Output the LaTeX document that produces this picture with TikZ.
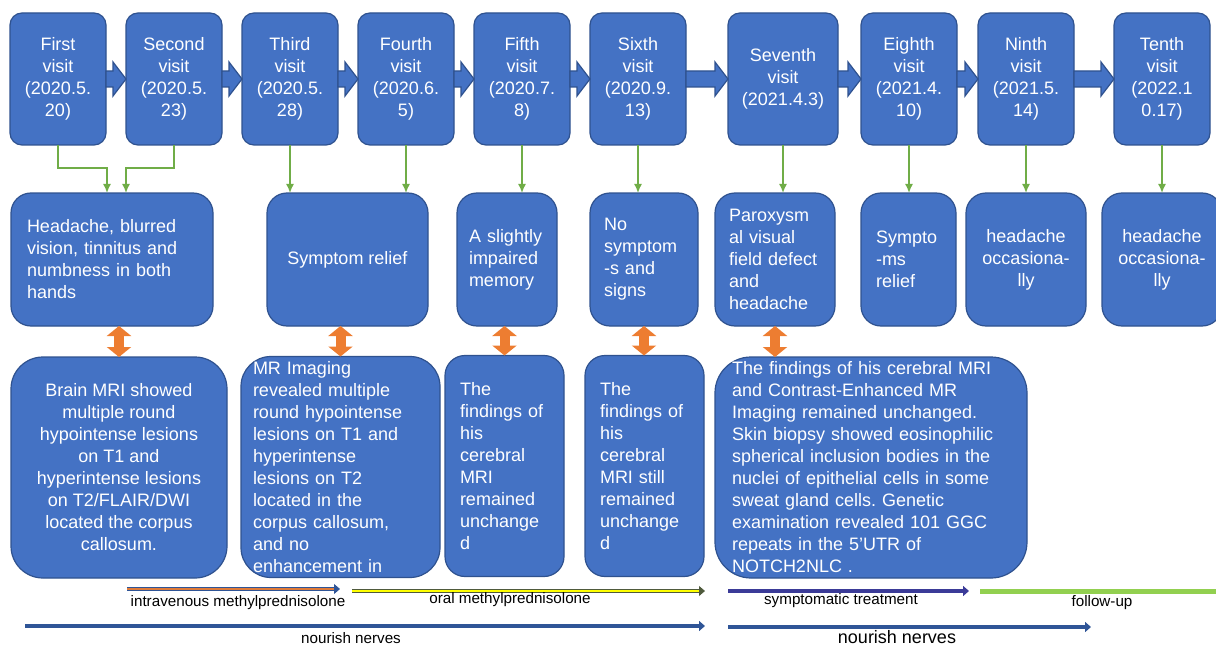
\documentclass[tikz,border=0pt]{standalone}
\usepackage{fontspec}
\setmainfont{Liberation Sans}
\usepackage{tikz}
\usetikzlibrary{arrows.meta,calc,positioning}
\definecolor{boxfill}{HTML}{4472C4}
\definecolor{boxline}{HTML}{2F528F}
\definecolor{dropgreen}{HTML}{70AD47}
\definecolor{linkorange}{HTML}{ED7D31}
\definecolor{ivorange}{HTML}{E07B39}
\definecolor{barblue}{HTML}{2F5597}
\definecolor{oralyellow}{HTML}{FFFF00}
\definecolor{oralline}{HTML}{4F5A3C}
\definecolor{symnavy}{HTML}{3B3B98}
\definecolor{followgreen}{HTML}{92D050}
\tikzset{
    x=0.5pt, y=-0.5pt, node distance =10pt and 10pt,
    box/.style ={rectangle, draw=boxline, fill=boxfill, text=white, line width=0.6pt, inner sep=0pt, outer sep=0pt, font=\fontsize{9}{11}\selectfont\frenchspacing},
    visit/.style = {box, rounded corners=6pt, minimum width=48pt, minimum height=66pt, align=center},
    symptom/.style = {box, rounded corners=10pt, minimum height=66.5pt},
    imaging/.style = {box, minimum height=110.5pt},
    blockarrow/.style = {draw=boxline, fill=boxfill, line width=0.6pt},
    drop/.style = {draw=dropgreen, line width=0.8pt, -{Latex[length=4.5pt,width=4pt]}},
    link/.style = {draw=linkorange, line width=5pt, {Triangle[length=5pt,width=12pt]}-{Triangle[length=5pt,width=12pt]}},
    ivbar/.style = {draw=barblue, line width=0.4pt, double=ivorange, double distance=1.2pt, -{Triangle[length=3pt,width=5pt]}},
    oralbar/.style = {draw=oralline, line width=0.4pt, double=oralyellow, double distance=1.2pt, -{Triangle[length=3pt,width=5pt]}},
    symbar/.style = {draw=symnavy, line width=2pt, -{Triangle[length=3pt,width=5pt]}},
    followbar/.style = {draw=followgreen, line width=2.5pt},
    nervebar/.style = {draw=barblue, line width=2pt, -{Triangle[length=3pt,width=5pt]}},
    barlabel/.style = {inner sep=0pt, font=\fontsize{7.6}{9}\selectfont}
}
\newcommand{\visitstep}[2]{\draw[blockarrow] ($(#1.east)+(0,-8)$) -- ($(#2.west)+(-13,-8)$) -- ($(#2.west)+(-13,-17)$) -- (#2.west) -- ($(#2.west)+(-13,17)$) -- ($(#2.west)+(-13,8)$) -- ($(#1.east)+(0,8)$) -- cycle;}

\begin{document}
\begin{tikzpicture}
    \useasboundingbox (0,0) rectangle (1216,647);

    % Visits
    \node[visit] (v1) at (58,79) {First\\visit\\(2020.5.\\20)};
    \node[visit] (v2) [right =of v1] {Second\\visit\\(2020.5.\\23)};
    \node[visit] (v3) [right =of v2] {Third\\visit\\(2020.5.\\28)};
    \node[visit] (v4) [right =of v3] {Fourth\\visit\\(2020.6.\\5)};
    \node[visit] (v5) [right =of v4] {Fifth\\visit\\(2020.7.\\8)};
    \node[visit] (v6) [right =of v5] {Sixth\\visit\\(2020.9.\\13)};
    \node[visit, minimum width=55pt] (v7) [right =21pt of v6] {Seventh\\visit\\(2021.4.3)};
    \node[visit] (v8) [right =11.5pt of v7] {Eighth\\visit\\(2021.4.\\10)};
    \node[visit] (v9) [right =10.5pt of v8] {Ninth\\visit\\(2021.5.\\14)};
    \node[visit] (v10) [right =20pt of v9] {Tenth\\visit\\(2022.1\\0.17)};

    % Symptoms
    \node[symptom, minimum width=101pt, text width=85pt, align=left] (b1) at (112,259.5) {Headache, blurred\\vision, tinnitus and\\numbness in both\\hands};
    \node[symptom, minimum width=80.5pt, align=center] (b2) at (347.5,259.5) {Symptom relief};
    \node[symptom, minimum width=50pt, text width=38pt, align=left] (b3) at (507,259.5) {A slightly\\impaired\\memory};
    \node[symptom, minimum width=54pt, text width=40pt, align=left] (b4) at (644,259.5) {No\\symptom\\-s and\\signs};
    \node[symptom, minimum width=60pt, text width=46pt, align=left] (b5) at (775,259.5) {Paroxysm\\al visual\\field defect\\and\\headache};
    \node[symptom, minimum width=47.5pt, text width=32.5pt, align=left] (b6) at (908.5,259.5) {Sympto\\-ms\\relief};
    \node[symptom, minimum width=60pt, align=center] (b7) at (1026,259.5) {headache\\occasiona-\\lly};
    \node[symptom, minimum width=60pt, align=center] (b8) at (1162,259.5) {headache\\occasiona-\\lly};

    % Imaging
    \node[imaging, rounded corners=16pt, minimum width=108pt, align=center] (c1) at (119,467.5) {Brain MRI showed\\multiple round\\hypointense lesions\\on T1 and\\hyperintense lesions\\on T2/FLAIR/DWI\\located the corpus\\callosum.};
    \node[imaging, rounded corners=15pt, minimum width=99.5pt, text width=87.5pt, align=left] (c2) at (340.5,467) {MR Imaging\\revealed multiple\\round hypointense\\lesions on T1 and\\hyperintense\\lesions on T2\\located in the\\corpus callosum,\\and no\\enhancement in};
    \node[imaging, rounded corners=10pt, minimum width=59.5pt, text width=44.5pt, align=left] (c3) at (504.5,466) {The\\findings of\\his\\cerebral\\MRI\\remained\\unchange\\d};
    \node[imaging, rounded corners=10pt, minimum width=59.5pt, text width=44.5pt, align=left] (c4) at (644.5,466) {The\\findings of\\his\\cerebral\\MRI still\\remained\\unchange\\d};
    \node[imaging, rounded corners=18pt, minimum width=156pt, text width=139pt, align=left] (c5) at (871,467.5) {The findings of his cerebral MRI\\and Contrast-Enhanced MR\\Imaging remained unchanged.\\Skin biopsy showed eosinophilic\\spherical inclusion bodies in the\\nuclei of epithelial cells in some\\sweat gland cells. Genetic\\examination revealed 101 GGC\\repeats in the 5'UTR of\\NOTCH2NLC .};

    % Visit steps
    \visitstep{v1}{v2}
    \visitstep{v2}{v3}
    \visitstep{v3}{v4}
    \visitstep{v4}{v5}
    \visitstep{v5}{v6}
    \visitstep{v6}{v7}
    \visitstep{v7}{v8}
    \visitstep{v8}{v9}
    \visitstep{v9}{v10}

    % Visits to symptoms
    \draw[drop] (v1.south) -- ++(0,23) -| ($(b1.north)+(-5,0)$);
    \draw[drop] (v2.south) -- ++(0,23) -| ($(b1.north)+(14,0)$);
    \draw[drop] (v3.south) -- (v3.south |- b2.north);
    \draw[drop] (v4.south) -- (v4.south |- b2.north);
    \draw[drop] (v5.south) -- (v5.south |- b3.north);
    \draw[drop] (v6.south) -- (v6.south |- b4.north);
    \draw[drop] (v7.south) -- (v7.south |- b5.north);
    \draw[drop] (v8.south) -- (v8.south |- b6.north);
    \draw[drop] (v9.south) -- (v9.south |- b7.north);
    \draw[drop] (v10.south) -- (v10.south |- b8.north);

    % Symptoms to imaging
    \draw[link] (c1.north |- b1.south) -- (c1.north);
    \draw[link] (c2.north |- b2.south) -- (c2.north);
    \draw[link] (c3.north |- b3.south) -- (c3.north);
    \draw[link] (b4.south) -- (b4.south |- c4.north);
    \draw[link] (b5.south) -- (b5.south |- c5.north);

    % Treatments
    \coordinate (iv1) at (127,589);
    \coordinate (iv2) at (340,589);
    \coordinate (oral1) at (352,591);
    \coordinate (oral2) at (705,591);
    \coordinate (sym1) at (728,591);
    \coordinate (sym2) at (969,591);
    \coordinate (follow1) at (980,591);
    \coordinate (follow2) at (1220,591);
    \coordinate (nerve1) at (25,626);
    \coordinate (nerve2) at (705,626);
    \coordinate (nerve3) at (728,627);
    \coordinate (nerve4) at (1091,627);
    \draw[ivbar] (iv1) -- (iv2);
    \draw[oralbar] (oral1) -- (oral2);
    \draw[symbar] (sym1) -- (sym2);
    \draw[followbar] (follow1) -- (follow2);
    \draw[nervebar] (nerve1) -- (nerve2);
    \draw[nervebar] (nerve3) -- (nerve4);
    \node[barlabel] (ivtext) at (238,603) {intravenous methylprednisolone};
    \node[barlabel] (oraltext) at (510,600) {oral methylprednisolone};
    \node[barlabel] (symtext) at (841,601) {symptomatic treatment};
    \node[barlabel] (followtext) at (1102,603) {follow-up};
    \node[barlabel] (nervetext1) at (351,638) {nourish nerves};
    \node[barlabel, font=\fontsize{9}{11}\selectfont] (nervetext2) at (897,637) {nourish nerves};
\end{tikzpicture}
\end{document}
